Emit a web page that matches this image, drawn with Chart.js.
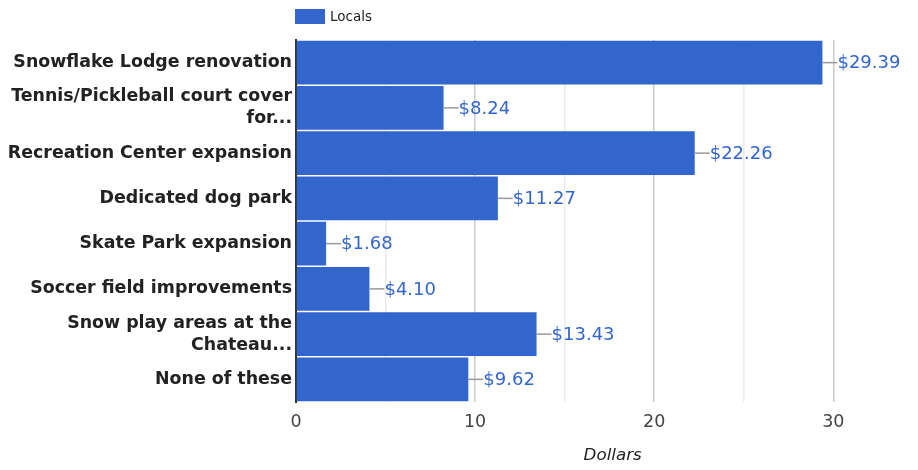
<!DOCTYPE html>
<html><head><meta charset="utf-8">
<script src="https://cdn.jsdelivr.net/npm/chart.js@4"></script>
<style>html,body{margin:0;padding:0;background:#fff}#wrap{width:918px;height:470px}</style>
</head><body><div id="wrap"><canvas id="c"></canvas></div>
<script>
const categories = [
  'Snowflake Lodge renovation',
  ['Tennis/Pickleball court cover', 'for...'],
  'Recreation Center expansion',
  'Dedicated dog park',
  'Skate Park expansion',
  'Soccer field improvements',
  ['Snow play areas at the', 'Chateau...'],
  'None of these'
];
const seriesName = 'Locals';
const localsValues = [29.39, 8.24, 22.26, 11.27, 1.68, 4.10, 13.43, 9.62];
const axisTitle = 'Dollars';
const BLUE = '#3366cc';
const FONT = "'DejaVu Sans', sans-serif";

const extras = {
  id: 'extras',
  afterDatasetsDraw(chart) {
    const ctx = chart.ctx;
    const meta = chart.getDatasetMeta(0);
    ctx.save();
    meta.data.forEach((bar, i) => {
      const x = bar.x, y = bar.y;
      ctx.strokeStyle = '#999';
      ctx.lineWidth = 1.5;
      ctx.beginPath();
      ctx.moveTo(x, y);
      ctx.lineTo(x + 15, y);
      ctx.stroke();
      ctx.fillStyle = BLUE;
      ctx.font = '18px ' + FONT;
      ctx.textAlign = 'left';
      ctx.textBaseline = 'middle';
      ctx.fillText('$' + localsValues[i].toFixed(2), x + 15, y + 1);
    });
    // legend
    const a = chart.chartArea;
    ctx.fillStyle = BLUE;
    ctx.fillRect(a.left - 1, 9, 30, 15);
    ctx.fillStyle = '#222';
    ctx.font = '13.5px ' + FONT;
    ctx.textBaseline = 'middle';
    ctx.fillText(seriesName, a.left + 34, 17);
    // axis title
    ctx.fillStyle = '#222';
    ctx.font = 'italic 16.7px ' + FONT;
    ctx.textAlign = 'center';
    ctx.fillText(axisTitle, a.left + (a.right - a.left) * 0.52, 456);
    ctx.restore();
  }
};

new Chart(document.getElementById('c'), {
  type: 'bar',
  data: {
    labels: categories,
    datasets: [{
      label: seriesName,
      data: localsValues,
      backgroundColor: BLUE,
      borderWidth: 0,
      barPercentage: 0.97,
      categoryPercentage: 1
    }]
  },
  options: {
    indexAxis: 'y',
    responsive: true,
    maintainAspectRatio: false,
    animation: false,
    layout: { padding: { left: 0, right: 13, top: 40, bottom: 0 } },
    plugins: { legend: { display: false }, tooltip: { enabled: false } },
    scales: {
      x: {
        min: 0, max: 34,
        afterFit(s) { s.height = 68; },
        ticks: {
          stepSize: 5,
          includeBounds: false,
          maxRotation: 0,
          autoSkip: false,
          padding: 10,
          color: '#444',
          font: { family: FONT, size: 17.5 },
          callback: v => (v % 10 === 0 ? String(v) : '')
        },
        grid: {
          drawTicks: false,
          color: c => (c.tick && c.tick.value % 10 === 0 ? (c.tick.value === 0 ? 'rgba(0,0,0,0)' : '#cccccc') : '#ebebeb'),
          lineWidth: 1.5
        },
        border: { display: false }
      },
      y: {
        afterFit(s) { s.width = 296; },
        ticks: {
          padding: 4,
          color: '#222',
          autoSkip: false,
          font: { family: FONT, size: 17.4, weight: 'bold', lineHeight: 1.27 }
        },
        grid: { display: false, drawTicks: false },
        border: { display: true, color: '#333', width: 2 }
      }
    }
  },
  plugins: [extras]
});
</script></body></html>
